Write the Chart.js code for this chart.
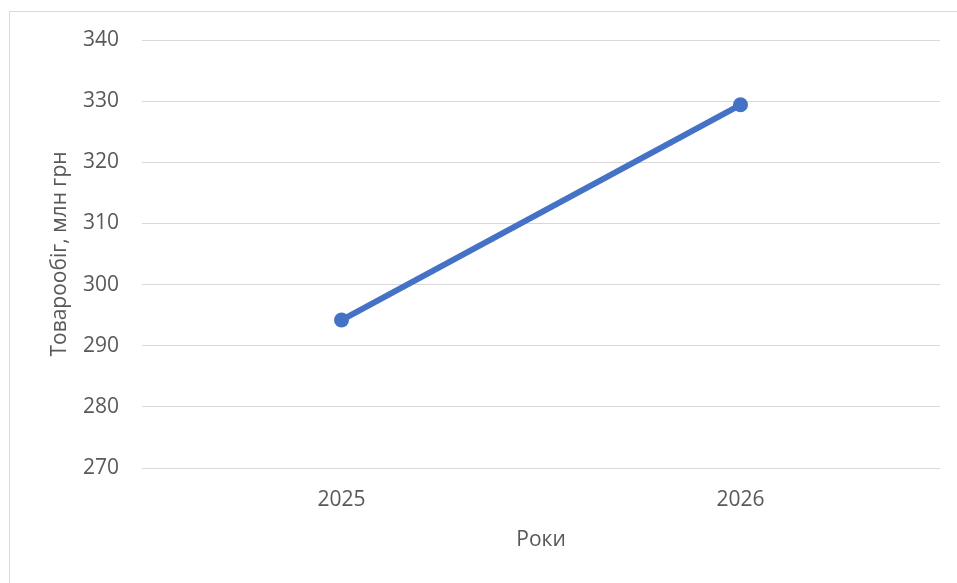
<!DOCTYPE html>
<html>
<head>
<meta charset="utf-8">
<script src="https://cdn.jsdelivr.net/npm/chart.js@4/dist/chart.umd.min.js"></script>
<style>
  html, body { margin: 0; padding: 0; background: #fff; overflow: hidden; }
  #frame { position: absolute; left: 9px; top: 11px; width: 980px; height: 620px; border: 1px solid #d9d9d9; }
  #c { position: absolute; left: 0; top: 0; }
</style>
</head>
<body>
<div id="frame"></div>
<canvas id="c" width="957" height="583"></canvas>
<script>
// Дані графіка
const ROKY = ['2025', '2026'];
const TOVAROOBIG = [294.2, 329.4];
const Y_MIN = 270, Y_MAX = 340, Y_STEP = 10;

const TXT = '#595959';
const FONT = { family: '"Open Sans", sans-serif', size: 21 };

new Chart(document.getElementById('c'), {
  type: 'line',
  data: {
    labels: ROKY,
    datasets: [{
      data: TOVAROOBIG,
      borderColor: '#4472C4', backgroundColor: '#4472C4',
      borderWidth: 6, pointRadius: 7.5, pointHoverRadius: 7.5,
      pointBorderWidth: 0, tension: 0,
    }],
  },
  options: {
    responsive: false, animation: false,
    layout: { padding: { left: 0, top: 40, right: 17, bottom: 0 } },
    plugins: { legend: { display: false }, tooltip: { enabled: false } },
    scales: {
      x: {
        offset: true,
        grid: { display: false, drawTicks: false },
        border: { display: false },
        ticks: { color: TXT, font: FONT, padding: 19 },
        title: { display: true, text: 'Роки', color: TXT, font: FONT, padding: { top: 0, bottom: 30 } },
        afterFit: s => { s.height = 115; },
      },
      y: {
        min: Y_MIN, max: Y_MAX,
        grid: { color: '#d9d9d9', lineWidth: 1, drawTicks: false },
        border: { display: false },
        ticks: { stepSize: Y_STEP, color: TXT, font: FONT, padding: 23 },
        title: { display: true, text: 'Товарообіг, млн грн', color: TXT, font: FONT, padding: { top: 47, bottom: 0 } },
        afterFit: s => { s.width = 142; },
      },
    },
  },
});
</script>
</body>
</html>
